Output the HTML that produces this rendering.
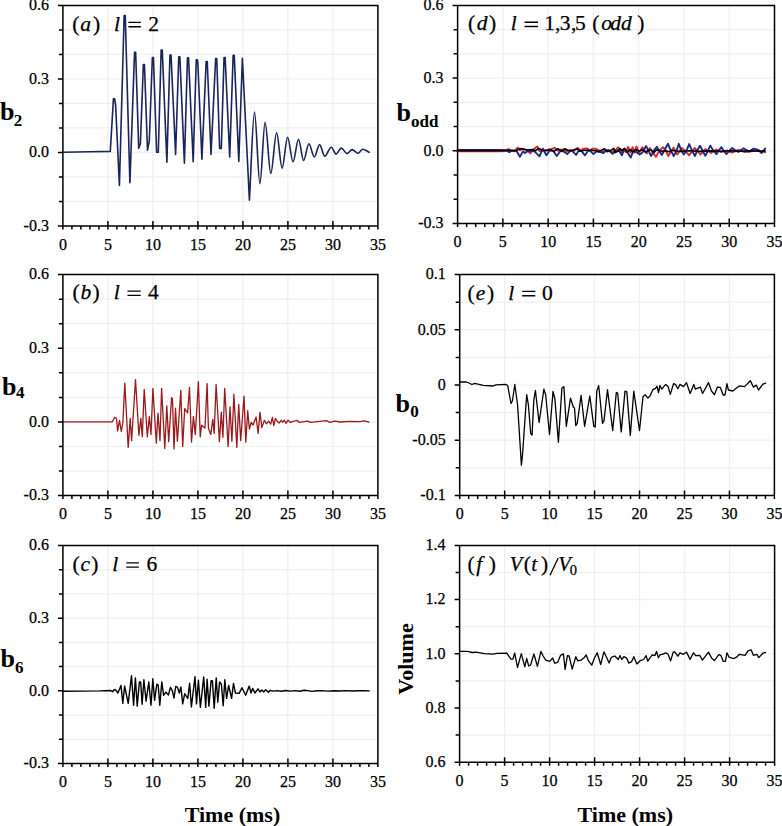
<!DOCTYPE html><html><head><meta charset="utf-8"><style>html,body{margin:0;padding:0;background:#fff;overflow:hidden;width:782px;height:826px;}svg{display:block;}text{font-family:"Liberation Serif", serif;fill:#000;}.tk{stroke:#000;stroke-width:0.25px;}</style></head><body>
<svg width="782" height="826" viewBox="0 0 782 826">
<rect width="782" height="826" fill="#fff"/>
<path d="M62.90 201.40H377.90M62.90 176.90H377.90M62.90 152.40H377.90M62.90 127.90H377.90M62.90 103.40H377.90M62.90 78.90H377.90M62.90 54.40H377.90M62.90 29.90H377.90M107.90 5.40V225.90M152.90 5.40V225.90M197.90 5.40V225.90M242.90 5.40V225.90M287.90 5.40V225.90M332.90 5.40V225.90" stroke="#efefef" stroke-width="1.2" fill="none"/>
<path d="M62.90 471.04H377.90M62.90 446.49H377.90M62.90 421.93H377.90M62.90 397.38H377.90M62.90 372.82H377.90M62.90 348.27H377.90M62.90 323.71H377.90M62.90 299.16H377.90M107.90 274.60V495.60M152.90 274.60V495.60M197.90 274.60V495.60M242.90 274.60V495.60M287.90 274.60V495.60M332.90 274.60V495.60" stroke="#efefef" stroke-width="1.2" fill="none"/>
<path d="M62.90 739.28H377.90M62.90 715.06H377.90M62.90 690.83H377.90M62.90 666.61H377.90M62.90 642.39H377.90M62.90 618.17H377.90M62.90 593.94H377.90M62.90 569.72H377.90M107.90 545.50V763.50M152.90 545.50V763.50M197.90 545.50V763.50M242.90 545.50V763.50M287.90 545.50V763.50M332.90 545.50V763.50" stroke="#efefef" stroke-width="1.2" fill="none"/>
<path d="M457.60 199.27H774.50M457.60 175.03H774.50M457.60 150.80H774.50M457.60 126.57H774.50M457.60 102.33H774.50M457.60 78.10H774.50M457.60 53.87H774.50M457.60 29.63H774.50M502.87 5.40V223.50M548.14 5.40V223.50M593.41 5.40V223.50M638.69 5.40V223.50M683.96 5.40V223.50M729.23 5.40V223.50" stroke="#efefef" stroke-width="1.2" fill="none"/>
<path d="M459.70 467.80H774.40M459.70 440.20H774.40M459.70 412.60H774.40M459.70 385.00H774.40M459.70 357.40H774.40M459.70 329.80H774.40M459.70 302.20H774.40M504.66 274.60V495.40M549.61 274.60V495.40M594.57 274.60V495.40M639.53 274.60V495.40M684.49 274.60V495.40M729.44 274.60V495.40" stroke="#efefef" stroke-width="1.2" fill="none"/>
<path d="M459.60 735.10H774.60M459.60 708.00H774.60M459.60 680.90H774.60M459.60 653.80H774.60M459.60 626.70H774.60M459.60 599.60H774.60M459.60 572.50H774.60M504.60 545.40V762.20M549.60 545.40V762.20M594.60 545.40V762.20M639.60 545.40V762.20M684.60 545.40V762.20M729.60 545.40V762.20" stroke="#efefef" stroke-width="1.2" fill="none"/>
<path d="M62.90 152.20 L90.00 151.80 L110.30 151.40 L113.45 98.70 L114.55 98.70 L115.60 105.00 L119.40 185.40 L124.15 15.50 L125.25 15.50 L129.90 182.70 L134.55 52.20 L135.65 52.20 L138.70 148.20 L140.40 143.60 L143.35 64.50 L144.45 64.50 L147.50 150.20 L149.30 141.00 L152.35 57.50 L153.45 57.50 L156.60 152.30 L158.30 152.30 L161.15 50.00 L162.25 50.00 L166.90 162.30 L169.95 55.10 L171.05 55.10 L175.60 154.50 L178.75 56.70 L179.85 56.70 L184.40 163.20 L187.45 57.90 L188.55 57.90 L193.20 161.70 L196.25 59.90 L197.35 59.90 L197.80 62.00 L201.90 159.30 L206.15 61.50 L207.25 61.50 L211.00 154.50 L215.65 58.50 L216.75 58.50 L219.60 148.40 L221.30 148.40 L224.05 57.50 L225.15 57.50 L229.70 156.90 L233.15 55.40 L234.25 55.40 L238.80 161.50 L242.40 58.30 L249.40 200.30C251.10 170.90 252.80 112.10 254.50 112.10C256.30 112.10 258.10 183.60 259.90 183.60C261.63 183.60 263.37 122.20 265.10 122.20C267.00 122.20 268.90 173.50 270.80 173.50C272.73 173.50 274.67 132.80 276.60 132.80C278.43 132.80 280.27 168.10 282.10 168.10C283.93 168.10 285.77 137.20 287.60 137.20C289.40 137.20 291.20 161.80 293.00 161.80C294.83 161.80 296.67 139.30 298.50 139.30C300.20 139.30 301.90 160.40 303.60 160.40C305.37 160.40 307.13 143.70 308.90 143.70C310.70 143.70 312.50 157.00 314.30 157.00C316.07 157.00 317.83 144.60 319.60 144.60C321.33 144.60 323.07 156.20 324.80 156.20C326.97 156.20 329.13 147.20 331.30 147.20C332.87 147.20 334.43 154.10 336.00 154.10C337.77 154.10 339.53 148.10 341.30 148.10C343.27 148.10 345.23 153.60 347.20 153.60C348.83 153.60 350.47 149.60 352.10 149.60C354.03 149.60 355.97 153.20 357.90 153.20C359.53 153.20 361.17 149.20 362.80 149.20C364.90 149.20 367.00 151.27 369.10 152.30" fill="none" stroke="#18245a" stroke-width="1.6" stroke-linejoin="round" stroke-linecap="round"/>
<polyline points="62.9,421.8 112.3,421.8 114.7,417.4 116.5,418.2 117.6,431.0 119.5,420.3 121.3,431.5 122.9,422.3 124.8,383.1 128.2,447.4 130.2,418.4 131.6,440.7 135.5,379.7 138.9,435.3 140.8,418.4 142.3,436.8 144.2,389.4 147.3,436.8 149.3,416.5 151.0,434.4 152.9,388.4 156.3,443.1 158.0,413.1 160.0,440.7 161.6,388.4 164.8,448.4 166.8,405.8 168.7,441.6 171.6,397.6 172.5,399.0 174.0,448.9 175.5,408.2 177.4,441.2 180.8,390.3 182.7,446.5 184.7,408.7 187.6,413.0 189.5,387.4 191.5,442.1 193.4,416.5 195.3,434.4 198.4,381.6 200.2,436.8 201.6,425.2 205.0,428.0 207.1,383.6 208.4,428.0 210.8,434.4 212.8,419.4 214.2,433.4 216.1,384.5 219.4,441.6 221.3,412.1 222.9,437.3 224.7,388.4 228.1,446.5 230.0,406.8 231.9,441.2 233.9,394.2 236.8,447.4 238.7,404.4 240.7,440.7 244.0,396.1 245.8,442.1 247.7,410.7 249.4,429.0 251.3,422.3 253.0,425.2 256.1,417.0 258.1,433.4 260.0,412.1 261.8,427.6 264.4,420.3 266.3,423.7 268.7,421.3 270.7,424.2 272.4,417.5 273.8,425.7 275.4,418.4 277.3,421.5 279.2,423.0 281.1,420.3 282.7,422.3 284.2,420.1 286.1,423.4 288.0,420.1 290.0,422.3 293.0,421.5 296.9,420.3 299.2,422.3 307.6,421.1 310.7,422.3 326.4,420.7 329.9,422.3 335.0,421.2 340.0,422.0 350.0,421.3 360.0,421.6 364.0,420.8 369.1,422.2" fill="none" stroke="#9a1a1c" stroke-width="1.30" stroke-linejoin="round" stroke-linecap="round"/>
<polyline points="62.9,691.2 100.0,690.9 110.7,690.5 112.5,691.8 114.3,689.5 116.1,690.4 117.9,693.0 121.0,685.5 122.8,703.4 124.6,686.0 128.2,703.4 131.5,675.7 133.6,705.2 135.4,677.9 137.2,706.1 139.4,681.9 140.7,681.9 142.1,704.3 143.9,679.7 146.1,701.2 148.8,681.9 151.0,705.2 152.8,678.8 154.6,700.3 156.8,684.2 158.2,685.1 159.8,705.2 161.8,681.9 163.6,695.4 165.8,692.2 168.5,694.9 170.4,687.3 172.2,690.4 174.0,698.0 175.7,686.4 177.5,687.3 179.3,693.1 180.9,686.9 182.7,703.9 184.7,693.6 187.8,698.5 189.6,683.3 191.4,707.0 195.0,676.6 196.5,703.9 198.4,680.1 200.4,707.4 203.7,677.0 205.7,707.4 207.1,679.2 208.9,706.1 211.1,680.6 212.4,680.6 214.2,708.3 216.2,677.9 217.8,702.1 219.6,681.9 221.4,684.2 223.2,705.7 224.8,679.7 226.6,698.5 228.6,685.5 231.6,698.4 233.5,683.4 235.4,693.0 239.2,693.4 241.9,687.7 245.7,695.3 249.2,686.1 251.1,693.0 252.6,688.4 254.9,693.0 258.0,688.8 259.9,691.9 261.8,690.0 263.8,691.9 265.7,689.8 268.4,692.3 270.3,690.3 273.0,691.1 277.0,690.6 281.0,691.2 286.0,690.5 290.0,691.1 295.0,690.6 300.0,691.2 304.0,690.3 308.0,690.6 312.0,691.4 317.0,690.8 322.0,690.6 328.0,691.1 334.0,690.7 340.0,691.0 346.0,690.6 352.0,691.0 358.0,690.8 364.0,690.6 369.1,690.9" fill="none" stroke="#000" stroke-width="1.40" stroke-linejoin="round" stroke-linecap="round"/>
<polyline points="457.6,151.3 500.0,151.3 505.0,151.0 508.5,149.0 511.0,150.3 514.1,151.4 517.6,147.6 519.9,150.3 523.3,148.7 526.4,149.9 530.3,153.4 533.3,149.5 537.2,146.4 539.5,151.0 543.3,150.7 546.4,149.9 551.0,149.1 554.8,148.0 557.9,150.7 561.7,149.5 565.0,150.7 568.1,151.0 571.1,150.3 574.2,150.7 577.7,148.0 580.3,150.7 583.4,148.7 587.3,148.4 589.6,150.7 592.2,148.7 595.7,148.7 598.8,150.3 601.8,151.8 604.9,150.7 608.7,149.9 611.8,152.2 614.9,151.0 618.3,147.2 621.5,152.2 623.5,149.1 625.8,152.2 628.1,146.8 630.4,152.6 632.7,147.2 634.6,152.6 636.5,146.4 639.2,152.6 642.3,147.2 646.9,153.4 649.9,148.0 653.0,153.0 656.1,156.8 659.1,150.7 663.0,147.2 666.0,151.0 668.3,156.0 671.0,151.4 673.7,147.6 677.3,154.5 681.9,148.0 685.7,151.4 689.2,155.3 694.6,148.0 697.3,151.0 700.3,154.5 705.3,149.1 708.0,150.7 711.1,153.0 716.4,149.5 721.0,152.2 727.2,150.3 731.8,152.6 738.3,150.0 745.0,152.0 751.6,151.3 758.2,150.3 765.2,152.3" fill="none" stroke="#d9262b" stroke-width="1.90" stroke-linejoin="round" stroke-linecap="round"/>
<polyline points="457.6,150.0 500.0,149.9 506.0,150.2 509.3,152.2 512.0,150.7 516.4,150.7 519.9,156.8 523.0,151.4 524.9,153.0 527.2,151.4 531.0,150.7 534.5,151.4 539.5,156.4 542.9,148.7 546.4,155.3 549.8,150.3 553.3,151.0 556.7,156.0 561.0,150.3 564.8,152.2 567.3,154.1 570.4,150.7 572.7,151.4 576.1,154.9 578.4,151.0 581.1,150.7 585.0,155.3 588.0,150.7 590.0,150.7 593.4,154.1 596.5,151.4 599.5,151.8 603.4,153.0 606.4,150.3 609.5,151.0 612.6,153.7 615.7,150.7 618.7,150.3 621.9,155.3 624.2,149.1 626.9,151.4 630.7,157.6 633.4,150.7 636.5,152.2 639.6,154.5 642.3,152.6 646.1,146.1 648.4,150.3 651.1,156.0 653.8,150.7 656.8,146.8 659.1,151.0 661.8,154.9 664.5,150.3 668.0,143.8 670.7,150.3 673.7,156.0 676.8,150.3 678.8,143.8 681.1,150.3 683.8,154.5 686.5,150.3 689.2,144.1 691.9,150.3 695.0,156.0 697.3,150.3 700.0,145.7 702.6,150.7 705.3,155.7 708.0,150.7 710.3,145.7 713.4,150.7 716.4,154.1 718.7,150.7 721.4,147.2 723.7,150.7 726.4,154.1 729.5,150.7 732.2,148.0 735.0,150.2 738.3,152.0 743.6,148.3 748.9,151.6 753.6,148.6 758.2,150.0 761.6,153.0 765.2,148.6" fill="none" stroke="#1b2a86" stroke-width="1.90" stroke-linejoin="round" stroke-linecap="round"/>
<polyline points="457.6,150.6 505.0,150.6 508.0,150.3 516.4,150.7 519.9,148.4 524.1,149.5 528.0,149.9 532.6,149.5 535.6,150.7 538.7,148.4 542.5,150.3 546.4,150.7 549.8,149.5 554.0,151.4 557.9,148.7 561.7,151.4 564.8,148.7 568.1,150.3 571.1,150.7 576.9,148.7 580.3,151.0 585.0,150.3 590.3,150.3 595.7,150.7 598.8,151.8 601.8,149.9 604.5,148.7 607.2,151.8 611.0,150.3 613.7,148.4 615.3,152.6 618.7,150.7 620.0,148.7 622.3,150.7 624.6,148.4 627.3,152.2 630.0,149.5 633.0,151.8 635.7,149.5 638.8,151.4 642.3,149.5 645.3,152.2 648.4,150.3 651.5,150.3 653.8,152.6 656.1,150.3 658.4,149.9 661.4,151.4 666.0,150.7 669.1,151.8 672.2,150.3 675.3,151.0 680.0,151.4 690.0,150.8 700.0,151.4 710.0,150.9 720.0,151.3 730.0,150.8 740.0,151.2 750.0,150.8 760.0,151.2 765.2,151.0" fill="none" stroke="#000" stroke-width="1.60" stroke-linejoin="round" stroke-linecap="round"/>
<polyline points="460.0,382.0 466.3,382.0 469.0,383.0 471.9,384.5 474.7,383.4 483.1,385.3 493.0,386.0 495.8,384.8 505.6,384.4 507.7,385.5 511.0,403.5 512.4,401.0 514.8,384.5 517.6,405.0 521.4,465.2 522.5,455.0 526.7,394.6 528.4,405.0 530.7,433.5 532.1,435.0 533.8,400.0 535.4,390.5 539.1,422.5 543.9,389.2 545.7,395.0 549.5,434.5 553.0,391.5 554.9,399.0 558.4,442.3 561.9,388.1 563.9,386.6 566.3,426.3 570.5,398.1 573.4,407.3 574.5,408.0 575.8,425.6 577.2,423.5 581.1,395.3 584.6,426.3 589.8,396.0 593.8,426.3 595.2,427.0 596.8,391.1 598.7,385.5 602.5,423.4 604.0,420.6 607.5,389.7 612.7,430.5 616.3,392.5 617.7,393.2 621.2,431.9 625.0,391.1 626.8,391.8 630.3,435.4 633.8,391.1 639.5,430.5 643.0,396.7 645.1,394.6 647.9,398.1 650.0,396.0 652.8,389.7 655.6,388.3 657.0,386.2 658.5,392.5 659.9,385.5 661.8,389.1 665.6,384.4 668.1,386.6 670.3,394.4 673.5,383.7 675.4,384.4 677.9,388.8 679.9,384.4 683.5,386.6 686.5,382.6 690.1,393.5 693.8,384.4 695.3,389.1 700.4,387.1 702.6,393.5 708.5,382.6 711.5,391.0 714.4,394.7 717.4,387.1 720.3,387.4 723.2,395.0 725.0,395.0 726.9,383.7 728.4,390.0 732.8,391.0 736.5,388.1 739.4,385.9 744.6,386.6 750.4,380.7 753.4,387.1 756.3,385.1 758.5,390.0 762.9,384.1 765.6,383.2" fill="none" stroke="#000" stroke-width="1.30" stroke-linejoin="round" stroke-linecap="round"/>
<polyline points="459.9,651.4 467.6,651.4 472.2,652.5 476.0,652.2 484.5,653.7 492.9,654.2 496.7,653.4 506.7,653.1 510.9,659.1 512.9,659.1 514.7,653.0 517.5,667.5 521.3,653.7 524.8,666.8 526.7,658.3 528.7,666.0 530.5,665.2 533.9,654.0 537.4,666.3 540.9,651.4 543.1,656.0 545.8,660.2 549.7,661.4 552.7,658.0 554.7,663.3 557.8,662.1 560.6,655.3 563.4,653.9 565.1,669.4 567.4,655.6 569.1,656.0 572.2,669.1 575.8,656.7 577.8,660.9 581.0,660.2 583.8,658.1 586.2,655.0 588.5,660.9 591.8,665.2 594.1,658.8 597.2,652.8 600.7,664.5 603.9,651.8 606.3,656.7 609.1,663.1 611.3,657.4 614.8,656.0 618.3,659.5 620.0,655.6 621.8,659.5 623.9,656.7 626.7,658.1 628.8,663.1 631.7,661.6 633.8,656.7 636.9,664.0 640.1,660.7 643.6,659.5 646.1,655.6 647.8,661.2 652.0,655.0 655.1,655.3 656.5,651.4 658.4,657.8 660.2,654.6 662.2,654.3 665.9,652.8 668.1,654.3 670.6,660.9 673.2,652.1 674.7,651.8 677.9,656.2 679.9,652.8 683.5,654.3 686.5,652.1 690.1,659.4 693.5,652.8 695.6,655.7 699.7,655.3 702.4,660.1 708.5,652.1 711.5,657.9 714.4,660.6 718.8,654.7 721.0,655.7 723.2,661.3 725.4,661.3 726.9,652.8 729.1,657.2 733.5,658.7 736.5,657.2 739.4,654.3 745.0,655.3 748.2,650.6 751.2,649.9 753.4,655.3 756.8,654.3 758.8,657.6 762.9,653.2 765.6,652.5" fill="none" stroke="#000" stroke-width="1.30" stroke-linejoin="round" stroke-linecap="round"/>
<path d="M62.90 5.40H377.90V225.90H62.90ZM57.90 225.90H62.90M58.90 201.40H62.90M58.90 176.90H62.90M57.90 152.40H62.90M58.90 127.90H62.90M58.90 103.40H62.90M57.90 78.90H62.90M58.90 54.40H62.90M58.90 29.90H62.90M57.90 5.40H62.90M62.90 220.90V229.40M71.90 225.90V229.40M80.90 225.90V229.40M89.90 225.90V229.40M98.90 225.90V229.40M107.90 220.90V229.40M116.90 225.90V229.40M125.90 225.90V229.40M134.90 225.90V229.40M143.90 225.90V229.40M152.90 220.90V229.40M161.90 225.90V229.40M170.90 225.90V229.40M179.90 225.90V229.40M188.90 225.90V229.40M197.90 220.90V229.40M206.90 225.90V229.40M215.90 225.90V229.40M224.90 225.90V229.40M233.90 225.90V229.40M242.90 220.90V229.40M251.90 225.90V229.40M260.90 225.90V229.40M269.90 225.90V229.40M278.90 225.90V229.40M287.90 220.90V229.40M296.90 225.90V229.40M305.90 225.90V229.40M314.90 225.90V229.40M323.90 225.90V229.40M332.90 220.90V229.40M341.90 225.90V229.40M350.90 225.90V229.40M359.90 225.90V229.40M368.90 225.90V229.40M377.90 220.90V229.40" stroke="#000" stroke-width="1.50" fill="none" stroke-linecap="butt"/>
<text x="48.90" y="10.20" text-anchor="end" font-size="16" class="tk">0.6</text>
<text x="48.90" y="83.70" text-anchor="end" font-size="16" class="tk">0.3</text>
<text x="48.90" y="157.20" text-anchor="end" font-size="16" class="tk">0.0</text>
<text x="48.90" y="230.70" text-anchor="end" font-size="16" class="tk">-0.3</text>
<text x="62.90" y="249.50" text-anchor="middle" font-size="16" class="tk">0</text>
<text x="107.90" y="249.50" text-anchor="middle" font-size="16" class="tk">5</text>
<text x="152.90" y="249.50" text-anchor="middle" font-size="16" class="tk">10</text>
<text x="197.90" y="249.50" text-anchor="middle" font-size="16" class="tk">15</text>
<text x="242.90" y="249.50" text-anchor="middle" font-size="16" class="tk">20</text>
<text x="287.90" y="249.50" text-anchor="middle" font-size="16" class="tk">25</text>
<text x="332.90" y="249.50" text-anchor="middle" font-size="16" class="tk">30</text>
<text x="377.90" y="249.50" text-anchor="middle" font-size="16" class="tk">35</text>
<path d="M62.90 274.60H377.90V495.60H62.90ZM57.90 495.60H62.90M58.90 471.04H62.90M58.90 446.49H62.90M57.90 421.93H62.90M58.90 397.38H62.90M58.90 372.82H62.90M57.90 348.27H62.90M58.90 323.71H62.90M58.90 299.16H62.90M57.90 274.60H62.90M62.90 490.60V499.10M71.90 495.60V499.10M80.90 495.60V499.10M89.90 495.60V499.10M98.90 495.60V499.10M107.90 490.60V499.10M116.90 495.60V499.10M125.90 495.60V499.10M134.90 495.60V499.10M143.90 495.60V499.10M152.90 490.60V499.10M161.90 495.60V499.10M170.90 495.60V499.10M179.90 495.60V499.10M188.90 495.60V499.10M197.90 490.60V499.10M206.90 495.60V499.10M215.90 495.60V499.10M224.90 495.60V499.10M233.90 495.60V499.10M242.90 490.60V499.10M251.90 495.60V499.10M260.90 495.60V499.10M269.90 495.60V499.10M278.90 495.60V499.10M287.90 490.60V499.10M296.90 495.60V499.10M305.90 495.60V499.10M314.90 495.60V499.10M323.90 495.60V499.10M332.90 490.60V499.10M341.90 495.60V499.10M350.90 495.60V499.10M359.90 495.60V499.10M368.90 495.60V499.10M377.90 490.60V499.10" stroke="#000" stroke-width="1.50" fill="none" stroke-linecap="butt"/>
<text x="48.90" y="279.40" text-anchor="end" font-size="16" class="tk">0.6</text>
<text x="48.90" y="353.07" text-anchor="end" font-size="16" class="tk">0.3</text>
<text x="48.90" y="426.73" text-anchor="end" font-size="16" class="tk">0.0</text>
<text x="48.90" y="500.40" text-anchor="end" font-size="16" class="tk">-0.3</text>
<text x="62.90" y="519.20" text-anchor="middle" font-size="16" class="tk">0</text>
<text x="107.90" y="519.20" text-anchor="middle" font-size="16" class="tk">5</text>
<text x="152.90" y="519.20" text-anchor="middle" font-size="16" class="tk">10</text>
<text x="197.90" y="519.20" text-anchor="middle" font-size="16" class="tk">15</text>
<text x="242.90" y="519.20" text-anchor="middle" font-size="16" class="tk">20</text>
<text x="287.90" y="519.20" text-anchor="middle" font-size="16" class="tk">25</text>
<text x="332.90" y="519.20" text-anchor="middle" font-size="16" class="tk">30</text>
<text x="377.90" y="519.20" text-anchor="middle" font-size="16" class="tk">35</text>
<path d="M62.90 545.50H377.90V763.50H62.90ZM57.90 763.50H62.90M58.90 739.28H62.90M58.90 715.06H62.90M57.90 690.83H62.90M58.90 666.61H62.90M58.90 642.39H62.90M57.90 618.17H62.90M58.90 593.94H62.90M58.90 569.72H62.90M57.90 545.50H62.90M62.90 758.50V767.00M71.90 763.50V767.00M80.90 763.50V767.00M89.90 763.50V767.00M98.90 763.50V767.00M107.90 758.50V767.00M116.90 763.50V767.00M125.90 763.50V767.00M134.90 763.50V767.00M143.90 763.50V767.00M152.90 758.50V767.00M161.90 763.50V767.00M170.90 763.50V767.00M179.90 763.50V767.00M188.90 763.50V767.00M197.90 758.50V767.00M206.90 763.50V767.00M215.90 763.50V767.00M224.90 763.50V767.00M233.90 763.50V767.00M242.90 758.50V767.00M251.90 763.50V767.00M260.90 763.50V767.00M269.90 763.50V767.00M278.90 763.50V767.00M287.90 758.50V767.00M296.90 763.50V767.00M305.90 763.50V767.00M314.90 763.50V767.00M323.90 763.50V767.00M332.90 758.50V767.00M341.90 763.50V767.00M350.90 763.50V767.00M359.90 763.50V767.00M368.90 763.50V767.00M377.90 758.50V767.00" stroke="#000" stroke-width="1.50" fill="none" stroke-linecap="butt"/>
<text x="48.90" y="550.30" text-anchor="end" font-size="16" class="tk">0.6</text>
<text x="48.90" y="622.97" text-anchor="end" font-size="16" class="tk">0.3</text>
<text x="48.90" y="695.63" text-anchor="end" font-size="16" class="tk">0.0</text>
<text x="48.90" y="768.30" text-anchor="end" font-size="16" class="tk">-0.3</text>
<text x="62.90" y="787.10" text-anchor="middle" font-size="16" class="tk">0</text>
<text x="107.90" y="787.10" text-anchor="middle" font-size="16" class="tk">5</text>
<text x="152.90" y="787.10" text-anchor="middle" font-size="16" class="tk">10</text>
<text x="197.90" y="787.10" text-anchor="middle" font-size="16" class="tk">15</text>
<text x="242.90" y="787.10" text-anchor="middle" font-size="16" class="tk">20</text>
<text x="287.90" y="787.10" text-anchor="middle" font-size="16" class="tk">25</text>
<text x="332.90" y="787.10" text-anchor="middle" font-size="16" class="tk">30</text>
<text x="377.90" y="787.10" text-anchor="middle" font-size="16" class="tk">35</text>
<path d="M457.60 5.40H774.50V223.50H457.60ZM452.60 223.50H457.60M453.60 199.27H457.60M453.60 175.03H457.60M452.60 150.80H457.60M453.60 126.57H457.60M453.60 102.33H457.60M452.60 78.10H457.60M453.60 53.87H457.60M453.60 29.63H457.60M452.60 5.40H457.60M457.60 218.50V227.00M466.65 223.50V227.00M475.71 223.50V227.00M484.76 223.50V227.00M493.82 223.50V227.00M502.87 218.50V227.00M511.93 223.50V227.00M520.98 223.50V227.00M530.03 223.50V227.00M539.09 223.50V227.00M548.14 218.50V227.00M557.20 223.50V227.00M566.25 223.50V227.00M575.31 223.50V227.00M584.36 223.50V227.00M593.41 218.50V227.00M602.47 223.50V227.00M611.52 223.50V227.00M620.58 223.50V227.00M629.63 223.50V227.00M638.69 218.50V227.00M647.74 223.50V227.00M656.79 223.50V227.00M665.85 223.50V227.00M674.90 223.50V227.00M683.96 218.50V227.00M693.01 223.50V227.00M702.07 223.50V227.00M711.12 223.50V227.00M720.17 223.50V227.00M729.23 218.50V227.00M738.28 223.50V227.00M747.34 223.50V227.00M756.39 223.50V227.00M765.45 223.50V227.00M774.50 218.50V227.00" stroke="#000" stroke-width="1.50" fill="none" stroke-linecap="butt"/>
<text x="443.60" y="10.20" text-anchor="end" font-size="16" class="tk">0.6</text>
<text x="443.60" y="82.90" text-anchor="end" font-size="16" class="tk">0.3</text>
<text x="443.60" y="155.60" text-anchor="end" font-size="16" class="tk">0.0</text>
<text x="443.60" y="228.30" text-anchor="end" font-size="16" class="tk">-0.3</text>
<text x="457.60" y="247.10" text-anchor="middle" font-size="16" class="tk">0</text>
<text x="502.87" y="247.10" text-anchor="middle" font-size="16" class="tk">5</text>
<text x="548.14" y="247.10" text-anchor="middle" font-size="16" class="tk">10</text>
<text x="593.41" y="247.10" text-anchor="middle" font-size="16" class="tk">15</text>
<text x="638.69" y="247.10" text-anchor="middle" font-size="16" class="tk">20</text>
<text x="683.96" y="247.10" text-anchor="middle" font-size="16" class="tk">25</text>
<text x="729.23" y="247.10" text-anchor="middle" font-size="16" class="tk">30</text>
<text x="774.50" y="247.10" text-anchor="middle" font-size="16" class="tk">35</text>
<path d="M459.70 274.60H774.40V495.40H459.70ZM454.70 495.40H459.70M455.70 467.80H459.70M454.70 440.20H459.70M455.70 412.60H459.70M454.70 385.00H459.70M455.70 357.40H459.70M454.70 329.80H459.70M455.70 302.20H459.70M454.70 274.60H459.70M459.70 490.40V498.90M468.69 495.40V498.90M477.68 495.40V498.90M486.67 495.40V498.90M495.67 495.40V498.90M504.66 490.40V498.90M513.65 495.40V498.90M522.64 495.40V498.90M531.63 495.40V498.90M540.62 495.40V498.90M549.61 490.40V498.90M558.61 495.40V498.90M567.60 495.40V498.90M576.59 495.40V498.90M585.58 495.40V498.90M594.57 490.40V498.90M603.56 495.40V498.90M612.55 495.40V498.90M621.55 495.40V498.90M630.54 495.40V498.90M639.53 490.40V498.90M648.52 495.40V498.90M657.51 495.40V498.90M666.50 495.40V498.90M675.49 495.40V498.90M684.49 490.40V498.90M693.48 495.40V498.90M702.47 495.40V498.90M711.46 495.40V498.90M720.45 495.40V498.90M729.44 490.40V498.90M738.43 495.40V498.90M747.43 495.40V498.90M756.42 495.40V498.90M765.41 495.40V498.90M774.40 490.40V498.90" stroke="#000" stroke-width="1.50" fill="none" stroke-linecap="butt"/>
<text x="445.70" y="279.40" text-anchor="end" font-size="16" class="tk">0.1</text>
<text x="445.70" y="334.60" text-anchor="end" font-size="16" class="tk">0.05</text>
<text x="445.70" y="389.80" text-anchor="end" font-size="16" class="tk">0</text>
<text x="445.70" y="445.00" text-anchor="end" font-size="16" class="tk">-0.05</text>
<text x="445.70" y="500.20" text-anchor="end" font-size="16" class="tk">-0.1</text>
<text x="459.70" y="519.00" text-anchor="middle" font-size="16" class="tk">0</text>
<text x="504.66" y="519.00" text-anchor="middle" font-size="16" class="tk">5</text>
<text x="549.61" y="519.00" text-anchor="middle" font-size="16" class="tk">10</text>
<text x="594.57" y="519.00" text-anchor="middle" font-size="16" class="tk">15</text>
<text x="639.53" y="519.00" text-anchor="middle" font-size="16" class="tk">20</text>
<text x="684.49" y="519.00" text-anchor="middle" font-size="16" class="tk">25</text>
<text x="729.44" y="519.00" text-anchor="middle" font-size="16" class="tk">30</text>
<text x="774.40" y="519.00" text-anchor="middle" font-size="16" class="tk">35</text>
<path d="M459.60 545.40H774.60V762.20H459.60ZM454.60 762.20H459.60M455.60 735.10H459.60M454.60 708.00H459.60M455.60 680.90H459.60M454.60 653.80H459.60M455.60 626.70H459.60M454.60 599.60H459.60M455.60 572.50H459.60M454.60 545.40H459.60M459.60 757.20V765.70M468.60 762.20V765.70M477.60 762.20V765.70M486.60 762.20V765.70M495.60 762.20V765.70M504.60 757.20V765.70M513.60 762.20V765.70M522.60 762.20V765.70M531.60 762.20V765.70M540.60 762.20V765.70M549.60 757.20V765.70M558.60 762.20V765.70M567.60 762.20V765.70M576.60 762.20V765.70M585.60 762.20V765.70M594.60 757.20V765.70M603.60 762.20V765.70M612.60 762.20V765.70M621.60 762.20V765.70M630.60 762.20V765.70M639.60 757.20V765.70M648.60 762.20V765.70M657.60 762.20V765.70M666.60 762.20V765.70M675.60 762.20V765.70M684.60 757.20V765.70M693.60 762.20V765.70M702.60 762.20V765.70M711.60 762.20V765.70M720.60 762.20V765.70M729.60 757.20V765.70M738.60 762.20V765.70M747.60 762.20V765.70M756.60 762.20V765.70M765.60 762.20V765.70M774.60 757.20V765.70" stroke="#000" stroke-width="1.50" fill="none" stroke-linecap="butt"/>
<text x="445.60" y="550.20" text-anchor="end" font-size="16" class="tk">1.4</text>
<text x="445.60" y="604.40" text-anchor="end" font-size="16" class="tk">1.2</text>
<text x="445.60" y="658.60" text-anchor="end" font-size="16" class="tk">1.0</text>
<text x="445.60" y="712.80" text-anchor="end" font-size="16" class="tk">0.8</text>
<text x="445.60" y="767.00" text-anchor="end" font-size="16" class="tk">0.6</text>
<text x="459.60" y="785.80" text-anchor="middle" font-size="16" class="tk">0</text>
<text x="504.60" y="785.80" text-anchor="middle" font-size="16" class="tk">5</text>
<text x="549.60" y="785.80" text-anchor="middle" font-size="16" class="tk">10</text>
<text x="594.60" y="785.80" text-anchor="middle" font-size="16" class="tk">15</text>
<text x="639.60" y="785.80" text-anchor="middle" font-size="16" class="tk">20</text>
<text x="684.60" y="785.80" text-anchor="middle" font-size="16" class="tk">25</text>
<text x="729.60" y="785.80" text-anchor="middle" font-size="16" class="tk">30</text>
<text x="774.60" y="785.80" text-anchor="middle" font-size="16" class="tk">35</text>
<text class="tk" x="72.26" y="30.60" font-size="21.5">(</text>
<text class="tk" x="80.36" y="30.60" font-size="21.5" font-style="italic">a</text>
<text class="tk" x="92.88" y="30.60" font-size="21.5">)</text>
<text class="tk" x="114.06" y="30.60" font-size="21.5" font-style="italic">l</text>
<text class="tk" x="148.26" y="30.60" font-size="21.5">2</text>
<path d="M128.40 22.40H140.90M128.40 26.70H140.90" stroke="#000" stroke-width="1.35"/>
<text class="tk" x="72.46" y="299.30" font-size="21.5">(</text>
<text class="tk" x="80.40" y="299.30" font-size="21.5" font-style="italic">b</text>
<text class="tk" x="92.38" y="299.30" font-size="21.5">)</text>
<text class="tk" x="113.76" y="299.30" font-size="21.5" font-style="italic">l</text>
<text class="tk" x="147.88" y="299.30" font-size="21.5">4</text>
<path d="M127.50 291.10H140.70M127.50 295.40H140.70" stroke="#000" stroke-width="1.35"/>
<text class="tk" x="72.46" y="571.00" font-size="21.5">(</text>
<text class="tk" x="80.54" y="571.00" font-size="21.5" font-style="italic">c</text>
<text class="tk" x="91.18" y="571.00" font-size="21.5">)</text>
<text class="tk" x="112.26" y="571.00" font-size="21.5" font-style="italic">l</text>
<text class="tk" x="146.38" y="571.00" font-size="21.5">6</text>
<path d="M126.30 562.80H138.90M126.30 567.10H138.90" stroke="#000" stroke-width="1.35"/>
<text class="tk" x="468.06" y="30.40" font-size="21.5">(</text>
<text class="tk" x="476.65" y="30.40" font-size="21.5" font-style="italic">d</text>
<text class="tk" x="488.98" y="30.40" font-size="21.5">)</text>
<text class="tk" x="510.66" y="30.40" font-size="21.5" font-style="italic">l</text>
<text class="tk" x="544.31" y="30.40" font-size="21.5">1</text>
<text class="tk" x="554.98" y="30.40" font-size="21.5">,</text>
<text class="tk" x="559.87" y="30.40" font-size="21.5">3</text>
<text class="tk" x="570.98" y="30.40" font-size="21.5">,</text>
<text class="tk" x="574.95" y="30.40" font-size="21.5">5</text>
<text class="tk" x="592.26" y="30.40" font-size="21.5">(</text>
<text class="tk" x="601.26" y="30.40" font-size="21.5" font-style="italic">o</text>
<text class="tk" x="610.35" y="30.40" font-size="21.5" font-style="italic">d</text>
<text class="tk" x="620.95" y="30.40" font-size="21.5" font-style="italic">d</text>
<text class="tk" x="637.18" y="30.40" font-size="21.5">)</text>
<path d="M524.60 22.20H538.00M524.60 26.50H538.00" stroke="#000" stroke-width="1.35"/>
<text class="tk" x="467.56" y="299.60" font-size="21.5">(</text>
<text class="tk" x="475.74" y="299.60" font-size="21.5" font-style="italic">e</text>
<text class="tk" x="487.08" y="299.60" font-size="21.5">)</text>
<text class="tk" x="508.26" y="299.60" font-size="21.5" font-style="italic">l</text>
<text class="tk" x="541.98" y="299.60" font-size="21.5">0</text>
<path d="M522.20 291.40H535.30M522.20 295.70H535.30" stroke="#000" stroke-width="1.35"/>
<text class="tk" x="467.46" y="570.90" font-size="21.5">(</text>
<text class="tk" x="476.36" y="570.90" font-size="21.5" font-style="italic">f</text>
<text class="tk" x="488.78" y="570.90" font-size="21.5">)</text>
<text class="tk" x="523.76" y="570.90" font-size="21.5">(</text>
<text class="tk" x="531.36" y="570.90" font-size="21.5" font-style="italic">t</text>
<text class="tk" x="540.98" y="570.90" font-size="21.5">)</text>
<text x="509.83" y="570.9" font-size="20.5" font-style="italic" class="tk">V</text>
<text x="558.13" y="570.9" font-size="20.5" font-style="italic" class="tk">V</text>
<path d="M550.0 575.3L558.2 558.0" stroke="#000" stroke-width="1.3"/>
<text x="569.65" y="575.3" font-size="14.5" class="tk">0</text>
<text x="0.00" y="119.90" font-size="26" font-weight="bold">b</text>
<text x="13.80" y="125.90" font-size="17" font-weight="bold">2</text>
<text x="1.90" y="394.50" font-size="26" font-weight="bold">b</text>
<text x="16.10" y="398.00" font-size="17" font-weight="bold">4</text>
<text x="0.40" y="666.80" font-size="26" font-weight="bold">b</text>
<text x="14.90" y="673.00" font-size="17" font-weight="bold">6</text>
<text x="396.40" y="120.90" font-size="26" font-weight="bold">b</text>
<text x="411.00" y="126.70" font-size="17" font-weight="bold">odd</text>
<text x="395.50" y="411.50" font-size="26" font-weight="bold">b</text>
<text x="410.20" y="417.30" font-size="17" font-weight="bold">0</text>
<text transform="translate(412.8 659) rotate(-90)" text-anchor="middle" font-size="22" font-weight="bold">Volume</text>
<text x="232.5" y="821.8" text-anchor="middle" font-size="22" font-weight="bold">Time (ms)</text>
<text x="625.3" y="821.9" text-anchor="middle" font-size="22" font-weight="bold">Time (ms)</text>
</svg></body></html>
